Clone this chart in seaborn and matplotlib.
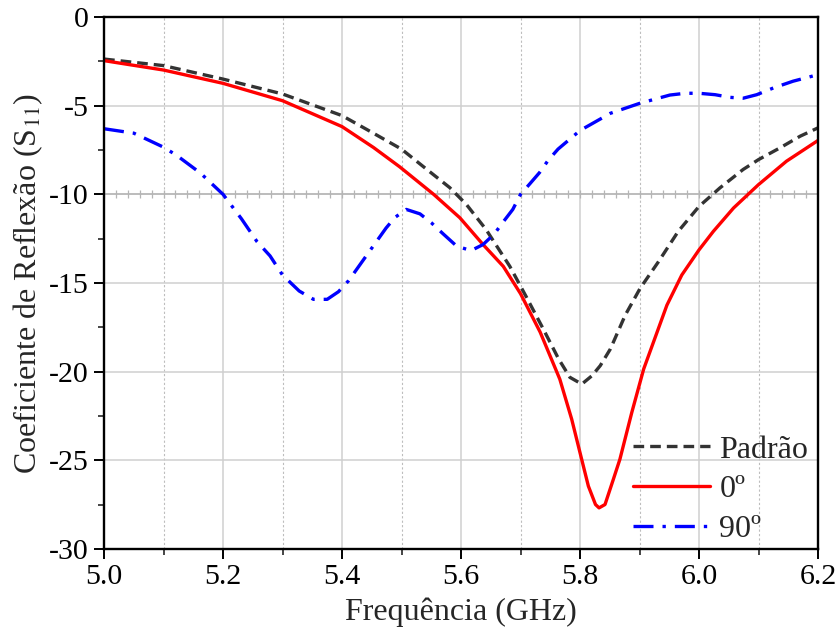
import numpy as np
import pandas as pd
import seaborn as sns
import matplotlib.pyplot as plt
from matplotlib.ticker import MultipleLocator, FormatStrFormatter

# Padrão (reference antenna)
freq_padrao = [5.0, 5.1, 5.2, 5.3, 5.4, 5.45, 5.5, 5.542, 5.581, 5.609, 5.642, 5.682, 5.71,
               5.738, 5.764, 5.783, 5.803, 5.82, 5.834, 5.851, 5.876, 5.901, 5.932, 5.965,
               6.0, 6.035, 6.074, 6.1, 6.136, 6.17, 6.2]
s11_padrao = [-2.37, -2.74, -3.5, -4.34, -5.56, -6.5, -7.45, -8.58, -9.62, -10.57, -11.98, -14.06, -15.8,
              -17.58, -19.28, -20.32, -20.7, -20.23, -19.66, -18.72, -16.81, -15.3, -13.79, -12.09,
              -10.68, -9.64, -8.6, -8.04, -7.38, -6.72, -6.25]

# 0º
freq_0 = [5.0, 5.1, 5.2, 5.3, 5.4, 5.453, 5.497, 5.554, 5.598, 5.637, 5.671, 5.70, 5.733, 5.766,
          5.786, 5.8, 5.814, 5.826, 5.832, 5.842, 5.856, 5.867, 5.887, 5.907, 5.946, 5.971,
          6.0, 6.024, 6.058, 6.1, 6.147, 6.2]
s11_0 = [-2.46, -2.99, -3.74, -4.72, -6.18, -7.36, -8.45, -10.0, -11.32, -12.83, -14.06, -15.6, -17.77, -20.42,
         -22.68, -24.57, -26.45, -27.49, -27.68, -27.49, -26.07, -24.94, -22.3, -19.85, -16.25, -14.55,
         -13.13, -12.09, -10.77, -9.45, -8.13, -6.96]

# 90º
freq_90 = [5.0, 5.05, 5.1, 5.122, 5.162, 5.2, 5.231, 5.257, 5.279, 5.3, 5.328, 5.352, 5.375, 5.394,
           5.411, 5.443, 5.474, 5.489, 5.508, 5.531, 5.55, 5.57, 5.593, 5.617, 5.637, 5.656, 5.671,
           5.687, 5.7, 5.715, 5.732, 5.746, 5.763, 5.8, 5.851, 5.9, 5.951, 5.977, 6.0, 6.027, 6.052,
           6.074, 6.097, 6.125, 6.158, 6.2]
s11_90 = [-6.3, -6.55, -7.34, -7.8, -8.8, -10.0, -11.38, -12.66, -13.47, -14.55, -15.45, -15.92, -15.92, -15.49,
          -14.87, -13.36, -11.9, -11.3, -10.85, -11.1, -11.6, -12.23, -12.93, -13.17, -12.83, -12.23, -11.55,
          -10.85, -10.0, -9.43, -8.77, -8.1, -7.45, -6.4, -5.43, -4.87, -4.4, -4.3, -4.3, -4.38, -4.53,
          -4.58, -4.38, -4.0, -3.62, -3.25]

sns.set_theme(style='white')
plt.rcParams['font.family'] = ['Liberation Serif', 'DejaVu Serif']
plt.rcParams['mathtext.fontset'] = 'stix'
plt.rcParams['axes.unicode_minus'] = False

fig = plt.figure(figsize=(8.39, 6.35), dpi=100)
ax = fig.add_axes([0.124, 0.1354, 0.851, 0.8378])

# grid
ax.set_axisbelow(True)
ax.grid(which='major', color='#cfcfcf', lw=1.1, ls='-')
ax.xaxis.grid(which='minor', color='#bdbdbd', lw=0.8, ls=(0, (2, 2)))
# -10 dB reference line with small ticks
ax.axhline(-10, color='#b5b5b5', lw=1.1, zorder=1)
ax.plot(np.arange(5.0, 6.2001, 0.02), np.full(61, -10.0), ls='none', marker='|',
        ms=6, mew=0.9, color='#b5b5b5', zorder=1)

sns.lineplot(x=freq_padrao, y=s11_padrao, ax=ax, color='#333333', lw=2.4,
             linestyle=(0, (3.2, 1.8)), label='Padrão', sort=False)
sns.lineplot(x=freq_0, y=s11_0, ax=ax, color='#ff0000', lw=2.4, linestyle='-',
             label='0º', sort=False)
sns.lineplot(x=freq_90, y=s11_90, ax=ax, color='#0000ff', lw=2.4,
             linestyle=(0, (6, 2.7, 1, 2.7)), label='90º', sort=False)

ax.set_xlim(5.0, 6.2)
ax.set_ylim(-30, 0)
ax.xaxis.set_major_locator(MultipleLocator(0.2))
ax.xaxis.set_minor_locator(MultipleLocator(0.1))
ax.xaxis.set_major_formatter(FormatStrFormatter('%.1f'))
ax.yaxis.set_major_locator(MultipleLocator(5))
ax.yaxis.set_minor_locator(MultipleLocator(2.5))

ax.tick_params(which='major', direction='out', length=7, width=1.4, labelsize=21.5,
               colors='black', bottom=True, left=True, pad=4)
ax.tick_params(which='minor', direction='out', length=4, width=1.2, bottom=True, left=True)
for sp in ax.spines.values():
    sp.set_color('black')
    sp.set_linewidth(1.7)

ax.set_xlabel('Frequência (GHz)', fontsize=23, labelpad=5)
ax.set_ylabel('Coeficiente de Reflexão (S$_{11}$)', fontsize=23, labelpad=3)

leg = ax.legend(loc='lower right', bbox_to_anchor=(1.011, -0.023), frameon=False,
                fontsize=23, handlelength=2.4, handletextpad=0.3, labelspacing=0.32,
                borderaxespad=0.15)

fig.savefig('out.png', dpi=100)
